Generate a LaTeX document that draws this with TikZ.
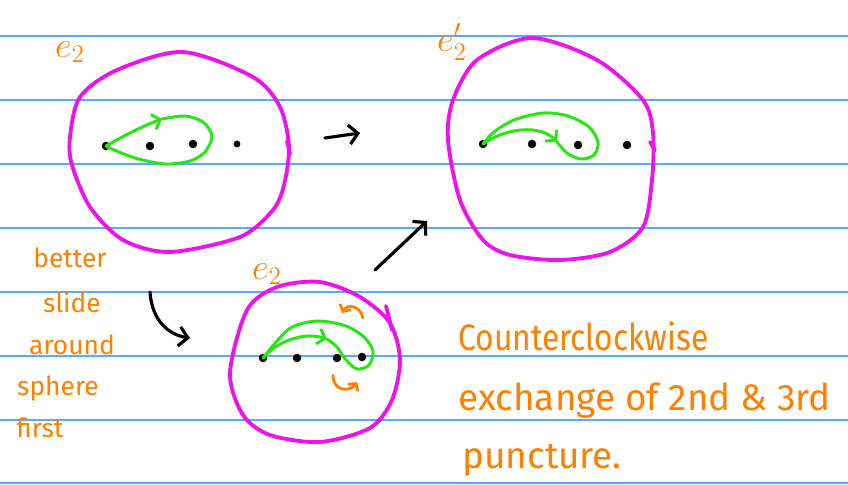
\documentclass[tikz,border=0pt]{standalone}
\usepackage{fontspec}
\setmainfont{Fira Sans}
\usepackage{amsmath}
\usetikzlibrary{arrows.meta,positioning}
\definecolor{ruleblue}{RGB}{90,168,255}
\definecolor{inkmagenta}{RGB}{235,20,235}
\definecolor{inkgreen}{RGB}{40,230,20}
\definecolor{inkorange}{RGB}{255,128,0}

\begin{document}
\begin{tikzpicture}[x=0.02cm,y=-0.02cm,
  rule/.style={draw=ruleblue, line width=0.8pt},
  sphere/.style={draw=inkmagenta, line width=2.2pt, line join=round, line cap=round},
  strand/.style={draw=inkgreen, line width=1.7pt, line cap=round, line join=round},
  barb/.style={-{Straight Barb[length=4pt,width=9pt]}},
  pen/.style={line width=1.8pt, line cap=round, -{Straight Barb[length=5pt,width=11pt]}},
  twist/.style={draw=inkorange, line width=1.6pt, line cap=round, -{Straight Barb[length=3pt,width=7pt]}},
  tag/.style={text=inkorange, font=\fontsize{22}{26}\selectfont, inner sep=0pt},
  note/.style={text=inkorange, font=\fontsize{21}{25}\selectfont, inner sep=0pt, anchor=base west},
  side/.style={text=inkorange, font=\fontsize{15}{17}\selectfont, inner sep=0pt}]

\useasboundingbox (0,0) rectangle (848,484);

% ruled paper
\draw[rule] (0,36) -- (848,36);
\draw[rule] (0,100) -- (848,100);
\draw[rule] (0,164) -- (848,164);
\draw[rule] (0,228) -- (848,228);
\draw[rule] (0,292) -- (848,292);
\draw[rule] (0,356) -- (848,356);
\draw[rule] (0,420) -- (848,420);
\draw[rule] (0,483) -- (848,483);

% sphere e_2
\draw[sphere] plot[smooth cycle] coordinates {(183,52) (253,77) (280,107) (289,147) (284,185) (273,210) (240,237) (170,252) (123,240) (90,207) (72,165) (70,137) (80,97) (117,70)};
\draw[sphere] (287,141) -- (290,154);
\filldraw (106,146) circle (2.2pt);
\filldraw (150,146) circle (2.2pt);
\filldraw (193,144) circle (2.2pt);
\filldraw (237,144) circle (1.7pt);
\draw[strand, barb] (106,146) .. controls (125,135) and (145,125) .. (162,119);
\draw[strand] plot[smooth] coordinates {(162,119) (185,116) (203,122) (212,136) (205,152) (190,161) (165,164) (135,158) (107,147)};
\node[tag] (e2a) at (70,52) {$e_2$};

% sphere e_2'
\draw[sphere] plot[smooth cycle] coordinates {(532,38) (597,60) (643,100) (653,133) (652,180) (643,227) (610,252) (560,260) (510,255) (483,240) (460,200) (448,140) (453,100) (477,60)};
\draw[sphere] (650,142) -- (655,150);
\filldraw (483,144) circle (2.2pt);
\filldraw (532,144) circle (2.2pt);
\filldraw (578,145) circle (2.2pt);
\filldraw (627,145) circle (2.2pt);
\draw[strand, barb] (483,144) .. controls (505,128) and (540,124) .. (557,142);
\draw[strand] plot[smooth] coordinates {(557,142) (567,153) (581,159) (594,155) (598,142) (589,127) (568,116) (543,113) (514,120) (494,132) (483,144)};
\node[tag] (e2b) at (452,42) {$e_2'$};

% sphere e_2, sliding
\draw[sphere] plot[smooth cycle] coordinates {(320,282) (360,297) (390,323) (400,360) (392,400) (370,428) (320,442) (270,435) (243,415) (230,373) (247,310) (277,287)};
\draw[sphere] (386,306) -- (392,330);
\filldraw (263,358) circle (2.2pt);
\filldraw (297,358) circle (2.2pt);
\filldraw (337,358) circle (2.2pt);
\filldraw (362,357) circle (2.2pt);
\draw[strand, barb] (263,358) .. controls (278,340) and (305,332) .. (327,339);
\draw[strand] plot[smooth] coordinates {(327,339) (337,347) (346,360) (357,369) (369,365) (373,351) (364,337) (346,326) (317,321) (289,329) (263,358)};
\draw[twist] (363,318) .. controls (360,305) and (347,304) .. (342,313);
\draw[twist] (333,375) .. controls (333,392) and (350,392) .. (357,382);
\node[tag] (e2c) at (267,274) {$e_2$};

% moves
\coordinate (a1) at (325,138);
\coordinate (a2) at (360,133);
\draw[pen] (a1) -- (a2);
\coordinate (b1) at (375,270);
\coordinate (b2) at (427,221);
\draw[pen] (b1) -- (b2);
\coordinate (c1) at (150,292);
\coordinate (c2) at (190,338);
\draw[pen] (c1) .. controls (152,322) and (170,335) .. (c2);

% notes
\node[side] (w1) at (70,258) {better};
\node[side] (w2) at (72,302) {slide};
\node[side] (w3) at (72,345) {around};
\node[side] (w4) at (58,388) {sphere};
\node[side] (w5) at (40,428) {first};
\node[note, xscale=0.86] (n1) at (458,350) {Counterclockwise};
\node[note] (n2) at (458,410) {exchange of 2nd \& 3rd};
\node[note] (n3) at (462,468) {puncture.};
\end{tikzpicture}
\end{document}
